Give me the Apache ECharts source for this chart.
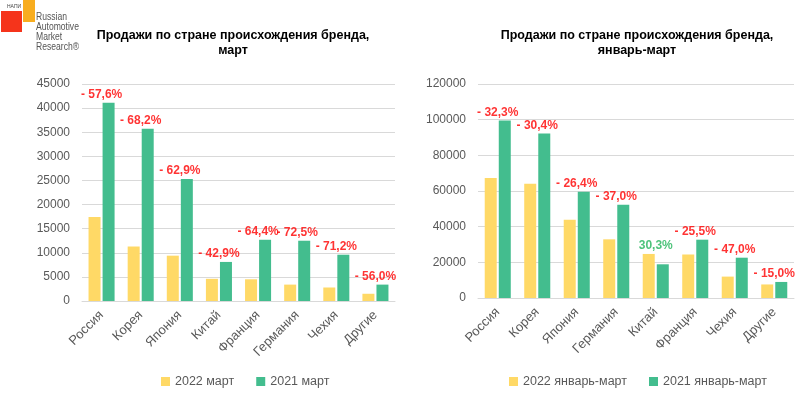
<!DOCTYPE html>
<html><head><meta charset="utf-8">
<script src="https://cdn.jsdelivr.net/npm/echarts@6/dist/echarts.min.js"></script>
<style>html,body{margin:0;padding:0;background:#fff}#c{width:803px;height:395px}</style>
</head><body><div id="c"></div>
<script>
// Left chart: March
const catsMar = ['Россия','Корея','Япония','Китай','Франция','Германия','Чехия','Другие'];
const mar2022 = [17400, 11300, 9400, 4600, 4500, 3400, 2800, 1500];
const mar2021 = [41100, 35700, 25300, 8100, 12700, 12500, 9600, 3400];
const marChange = ['- 57,6%','- 68,2%','- 62,9%','- 42,9%','- 64,4%','- 72,5%','- 71,2%','- 56,0%'];
const marTicks = [0,5000,10000,15000,20000,25000,30000,35000,40000,45000];

// Right chart: January-March
const catsQ = ['Россия','Корея','Япония','Германия','Китай','Франция','Чехия','Другие'];
const q2022 = [67300, 64100, 43900, 32900, 24700, 24400, 12000, 7600];
const q2021 = [99500, 92200, 59600, 52300, 18900, 32700, 22600, 9000];
const qChange = ['- 32,3%','- 30,4%','- 26,4%','- 37,0%','30,3%','- 25,5%','- 47,0%','- 15,0%'];
const qTicks = [0,20000,40000,60000,80000,100000,120000];

const FONT = 'Liberation Sans, Arial, sans-serif';
const YEL = '#FFD966', GRN = '#43BD8E';
const TXT = '#595959';

function labelData(a, b, lbl) {
  return a.map((v, i) => ({
    value: Math.max(v, b[i]),
    label: { formatter: lbl[i], color: lbl[i].trim().startsWith('-') ? '#FF0000' : '#22B45A' }
  }));
}

function xAx(idx, cats) {
  return {
    type: 'category', gridIndex: idx, data: cats,
    axisTick: { show: false },
    axisLine: { lineStyle: { color: '#D9D9D9' } },
    axisLabel: { rotate: 45, color: TXT, fontFamily: FONT, fontSize: 13, margin: 12, interval: 0 }
  };
}
function yAx(idx, ticks) {
  return {
    type: 'value', gridIndex: idx, min: ticks[0], max: ticks[ticks.length - 1],
    interval: ticks[1] - ticks[0],
    axisLine: { show: false }, axisTick: { show: false },
    splitLine: { lineStyle: { color: '#D9D9D9' } },
    axisLabel: { color: TXT, fontFamily: FONT, fontSize: 12, margin: 12, formatter: v => String(v) }
  };
}

const chart = echarts.init(document.getElementById('c'), null, { renderer: 'canvas' });
chart.setOption({
  animation: false,
  backgroundColor: '#fff',
  title: [
    { text: 'Продажи по стране происхождения бренда,\nмарт', left: 233, top: 28, textAlign: 'center', padding: 0,
      textStyle: { fontFamily: FONT, fontSize: 12.5, fontWeight: 'bold', color: '#000', lineHeight: 15, align: 'center' } },
    { text: 'Продажи по стране происхождения бренда,\nянварь-март', left: 637, top: 28, textAlign: 'center', padding: 0,
      textStyle: { fontFamily: FONT, fontSize: 12.5, fontWeight: 'bold', color: '#000', lineHeight: 15, align: 'center' } }
  ],
  legend: [
    { data: ['2022 март', '2021 март'], left: 161, top: 375, padding: 0, itemWidth: 9, itemHeight: 9, itemGap: 22,
      icon: 'rect', textStyle: { color: TXT, fontFamily: FONT, fontSize: 12.5 } },
    { data: ['2022 январь-март', '2021 январь-март'], left: 509, top: 375, padding: 0, itemWidth: 9, itemHeight: 9, itemGap: 22,
      icon: 'rect', textStyle: { color: TXT, fontFamily: FONT, fontSize: 12.5 } }
  ],
  grid: [
    { left: 82, right: 408, top: 84, bottom: 94 },
    { left: 478, right: 9, top: 84, bottom: 97 }
  ],
  xAxis: [xAx(0, catsMar), xAx(1, catsQ)],
  yAxis: [yAx(0, marTicks), yAx(1, qTicks)],
  series: [
    { name: '2022 март', type: 'bar', xAxisIndex: 0, yAxisIndex: 0, data: mar2022, barWidth: 12, barGap: '17%', itemStyle: { color: YEL } },
    { name: '2021 март', type: 'bar', xAxisIndex: 0, yAxisIndex: 0, data: mar2021, barWidth: 12, barGap: '17%', itemStyle: { color: GRN } },
    { name: 'lblMar', type: 'scatter', xAxisIndex: 0, yAxisIndex: 0, symbolSize: 0, data: labelData(mar2022, mar2021, marChange),
      label: { show: true, position: 'top', distance: 2, fontFamily: FONT, fontSize: 12, fontWeight: 'bold' }, silent: true },
    { name: '2022 январь-март', type: 'bar', xAxisIndex: 1, yAxisIndex: 1, data: q2022, barWidth: 12, barGap: '17%', itemStyle: { color: YEL } },
    { name: '2021 январь-март', type: 'bar', xAxisIndex: 1, yAxisIndex: 1, data: q2021, barWidth: 12, barGap: '17%', itemStyle: { color: GRN } },
    { name: 'lblQ', type: 'scatter', xAxisIndex: 1, yAxisIndex: 1, symbolSize: 0, data: labelData(q2022, q2021, qChange),
      label: { show: true, position: 'top', distance: 2, fontFamily: FONT, fontSize: 12, fontWeight: 'bold' }, silent: true }
  ],
  graphic: [
    { type: 'rect', shape: { x: 1, y: 11, width: 21, height: 21 }, style: { fill: '#F5341B' } },
    { type: 'rect', shape: { x: 23, y: 0, width: 12, height: 22 }, style: { fill: '#F8AD1F' } },
    { type: 'text', style: { x: 7, y: 4, text: 'НАПИ', font: '5px ' + FONT, fill: '#444' } },
    { type: 'text', x: 36, y: 12, scaleX: 0.78, style: { x: 0, y: 0, text: 'Russian\nAutomotive\nMarket\nResearch®', font: '11px ' + FONT, fill: '#555', lineHeight: 10 } }
  ]
});
</script></body></html>
